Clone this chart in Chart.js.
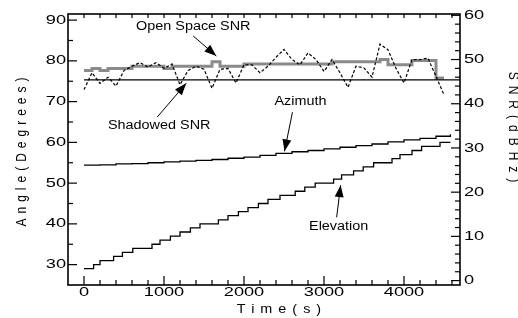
<!DOCTYPE html>
<html>
<head>
<meta charset="utf-8">
<script src="https://cdn.jsdelivr.net/npm/chart.js@4/dist/chart.umd.min.js"></script>
<style>
  html, body { margin: 0; padding: 0; background: #fff; }
</style>
</head>
<body>
<canvas id="snrChart" width="518" height="318"></canvas>
<script>
// time axis (s) for the SNR records
const timeSnr = [0, 100, 200, 300, 400, 500, 600, 700, 800, 900, 1000, 1100, 1200, 1300, 1400, 1500,
  1600, 1700, 1800, 1900, 2000, 2100, 2200, 2300, 2400, 2500, 2600, 2700, 2800, 2900, 3000, 3100,
  3200, 3300, 3400, 3500, 3600, 3700, 3800, 3900, 4000, 4100, 4200, 4300, 4400, 4500];

const openSpaceSnr = [47.5, 48, 47.5, 48, 48, 48, 48.5, 48.5, 48.5, 48.5, 48, 48.5, 48.5, 48.5, 48.5, 48.5,
  49.5, 48.5, 48.5, 48.5, 49, 49, 49, 49, 49, 49, 49, 49, 49, 49, 49, 49.5,
  49.5, 49.5, 49.5, 49.5, 49.5, 50, 48.8, 48.8, 48.8, 49.8, 49.8, 49.8, 45.8, 45.8];

const shadowedSnr = [43.2, 47, 44.6, 46, 44, 47.5, 48.5, 49.3, 48.3, 49.3, 48, 49, 44.3, 47.5, 48.5, 47.8,
  43.5, 47.8, 48, 44.7, 48.8, 48.8, 47, 48.5, 50.5, 52.3, 50, 48.8, 51.5, 50, 47.3, 50,
  47, 43.7, 48.5, 48.1, 46, 53.5, 52.2, 48, 44.7, 50, 50, 50.3, 46.2, 42];

const refTime = [0, 4700];
const refSnr = [45.4, 45.4];

const azTime = [0, 200, 400, 600, 800, 1000, 1200, 1400, 1600, 1800, 2000, 2200, 2400, 2600, 2800, 3000,
  3200, 3400, 3600, 3800, 4000, 4200, 4400, 4580];
const azimuth = [54.4, 54.5, 54.7, 54.8, 55.0, 55.2, 55.4, 55.6, 55.8, 56.1, 56.4, 56.8, 57.3, 57.7, 58.0, 58.4,
  58.8, 59.2, 59.6, 60.1, 60.6, 61.0, 61.5, 62.0];

const elevTime = [0, 120, 200, 370, 480, 610, 850, 950, 1080, 1200, 1330, 1450, 1680, 1800, 1930, 2050,
  2180, 2300, 2450, 2640, 2760, 2890, 3120, 3220, 3370, 3490, 3620, 3850, 3950, 4100, 4220, 4450, 4580];
const elevation = [29, 30, 31, 32, 33, 34, 35, 36, 37, 38, 39, 40, 41, 42, 43, 44,
  45, 46, 47, 48, 49, 50, 51, 52, 53, 54, 55, 56, 57, 58, 59, 60, 60];

// tick labels and tick marks
const timeLabels = [0, 1000, 2000, 3000, 4000];
const timeMinor = [200, 400, 600, 800, 1200, 1400, 1600, 1800, 2200, 2400, 2600, 2800,
  3200, 3400, 3600, 3800, 4200, 4400, 4600];
const angleLabels = [30, 40, 50, 60, 70, 80, 90];
const angleMinor = [35, 45, 55, 65, 75, 85];
const snrLabels = [0, 10, 20, 30, 40, 50, 60];
const snrMinor = [2, 4, 6, 8, 12, 14, 16, 18, 22, 24, 26, 28, 32, 34, 36, 38, 42, 44, 46, 48, 52, 54, 56, 58];

const pts = (xs, ys) => xs.map((x, i) => ({ x: x, y: ys[i] }));

const FONT = "'Liberation Sans', Arial, sans-serif";

// callouts: text centre + arrow, in (time, degrees)
const callouts = [
  { text: 'Open Space SNR', t: 1366, deg: 88.3, from: [1366, 86.1], to: [1654, 81.2] },
  { text: 'Shadowed SNR', t: 940, deg: 64.2, from: [915, 66.2], to: [1278, 74.5] },
  { text: 'Azimuth', t: 2706, deg: 69.9, from: [2606, 67.4], to: [2506, 57.8] },
  { text: 'Elevation', t: 3183, deg: 39.4, from: [3158, 41.6], to: [3208, 49.5] }
];

const canvas = document.getElementById('snrChart');
const ctx = canvas.getContext('2d');

// the original figure is stretched sideways, text included
const plainFillText = ctx.fillText;
ctx.textStretch = 1.4;
ctx.fillText = function (text, x, y, maxWidth) {
  const m = this.getTransform();
  const sx = this.textStretch || 1;
  const px = m.a * x + m.c * y + m.e;
  this.save();
  this.setTransform(sx * m.a, m.b, sx * m.c, m.d, sx * m.e + px * (1 - sx), m.f);
  if (maxWidth === undefined) plainFillText.call(this, text, x, y);
  else plainFillText.call(this, text, x, y, maxWidth);
  this.restore();
};

function arrow(c, x1, y1, x2, y2) {
  c.beginPath();
  c.moveTo(x1, y1);
  c.lineTo(x2, y2);
  c.stroke();
  const ang = Math.atan2(y2 - y1, x2 - x1);
  const len = 12, half = 4.5;
  const bx = x2 - len * Math.cos(ang), by = y2 - len * Math.sin(ang);
  c.beginPath();
  c.moveTo(x2, y2);
  c.lineTo(bx + half * Math.sin(ang), by - half * Math.cos(ang));
  c.lineTo(bx - half * Math.sin(ang), by + half * Math.cos(ang));
  c.closePath();
  c.fill();
}

const plotDecor = {
  id: 'plotDecor',
  afterDraw(chart) {
    const c = chart.ctx;
    const a = chart.chartArea;
    const sx = chart.scales.x, sy = chart.scales.y, sy2 = chart.scales.y2;
    c.save();
    c.strokeStyle = '#000';
    c.fillStyle = '#000';
    c.lineWidth = 1.6;
    c.strokeRect(a.left, a.top, a.right - a.left, a.bottom - a.top);

    c.lineWidth = 1.2;
    const seg = (x1, y1, x2, y2) => { c.beginPath(); c.moveTo(x1, y1); c.lineTo(x2, y2); c.stroke(); };
    timeLabels.forEach(v => { const p = sx.getPixelForValue(v); seg(p, a.bottom, p, a.bottom - 9); seg(p, a.top, p, a.top + 4); });
    timeMinor.forEach(v => { const p = sx.getPixelForValue(v); seg(p, a.bottom, p, a.bottom - 5); seg(p, a.top, p, a.top + 4); });
    angleLabels.forEach(v => { const p = sy.getPixelForValue(v); seg(a.left, p, a.left + 9, p); });
    angleMinor.forEach(v => { const p = sy.getPixelForValue(v); seg(a.left, p, a.left + 5, p); });
    snrLabels.forEach(v => { const p = sy2.getPixelForValue(v); seg(a.right, p, a.right - 9, p); });
    snrMinor.forEach(v => { const p = sy2.getPixelForValue(v); seg(a.right, p, a.right - 5, p); });

    // callouts
    c.textStretch = 1.2;
    c.font = '12px ' + FONT;
    c.textAlign = 'center';
    c.textBaseline = 'middle';
    c.lineWidth = 1;
    callouts.forEach(n => {
      c.fillText(n.text, sx.getPixelForValue(n.t), sy.getPixelForValue(n.deg));
      arrow(c, sx.getPixelForValue(n.from[0]), sy.getPixelForValue(n.from[1]),
        sx.getPixelForValue(n.to[0]), sy.getPixelForValue(n.to[1]));
    });

    // axis titles, letter spaced like the original
    c.letterSpacing = '5px';
    c.fillText('Time(s)', 282, 310);
    c.save();
    c.translate(22, (a.top + a.bottom) / 2);
    c.rotate(-Math.PI / 2);
    c.fillText('Angle(Degrees)', 0, 0);
    c.restore();
    c.letterSpacing = '6px';
    c.save();
    c.translate(513, 130);
    c.rotate(Math.PI / 2);
    c.fillText('SNR(dBHz)', 0, 0);
    c.restore();
    c.letterSpacing = '0px';
    c.textStretch = 1.4;
    c.restore();
  }
};

const tickFont = { family: FONT, size: 13 };
const plainNumber = v => String(v);

new Chart(ctx, {
  type: 'line',
  data: {
    datasets: [
      {
        label: 'Shadowed SNR',
        data: pts(timeSnr, shadowedSnr),
        yAxisID: 'y2',
        borderColor: '#000',
        borderWidth: 1.2,
        borderDash: [3, 2],
        pointRadius: 0
      },
      {
        label: 'Reference',
        data: pts(refTime, refSnr),
        yAxisID: 'y2',
        borderColor: '#000',
        borderWidth: 1.3,
        pointRadius: 0
      },
      {
        label: 'Open Space SNR',
        data: pts(timeSnr, openSpaceSnr),
        yAxisID: 'y2',
        borderColor: '#8a8a8a',
        borderWidth: 3,
        stepped: true,
        pointRadius: 0
      },
      {
        label: 'Azimuth',
        data: pts(azTime, azimuth),
        yAxisID: 'y',
        borderColor: '#000',
        borderWidth: 1.3,
        stepped: true,
        pointRadius: 0
      },
      {
        label: 'Elevation',
        data: pts(elevTime, elevation),
        yAxisID: 'y',
        borderColor: '#000',
        borderWidth: 1.3,
        stepped: true,
        pointRadius: 0
      }
    ]
  },
  options: {
    responsive: false,
    animation: false,
    devicePixelRatio: 1,
    layout: { padding: { top: 14, left: 0, right: 0, bottom: 0 } },
    plugins: {
      legend: { display: false },
      tooltip: { enabled: false }
    },
    scales: {
      x: {
        type: 'linear',
        min: -200,
        max: 4700,
        afterBuildTicks: s => { s.ticks = timeLabels.map(v => ({ value: v })); },
        afterFit: s => { s.height = 33; },
        grid: { display: false, drawTicks: false },
        border: { display: false },
        ticks: { color: '#000', font: tickFont, padding: 0, maxRotation: 0, autoSkip: false, callback: plainNumber }
      },
      y: {
        position: 'left',
        min: 25,
        max: 91.5,
        afterBuildTicks: s => { s.ticks = angleLabels.map(v => ({ value: v })); },
        afterFit: s => { s.width = 68; },
        grid: { display: false, drawTicks: false },
        border: { display: false },
        ticks: { color: '#000', font: tickFont, padding: 2, callback: plainNumber }
      },
      y2: {
        position: 'right',
        min: -1,
        max: 60.3,
        afterBuildTicks: s => { s.ticks = snrLabels.map(v => ({ value: v })); },
        afterFit: s => { s.width = 58; },
        grid: { display: false, drawTicks: false },
        border: { display: false },
        ticks: { color: '#000', font: tickFont, padding: 4, callback: plainNumber }
      }
    }
  },
  plugins: [plotDecor]
});
</script>
</body>
</html>
